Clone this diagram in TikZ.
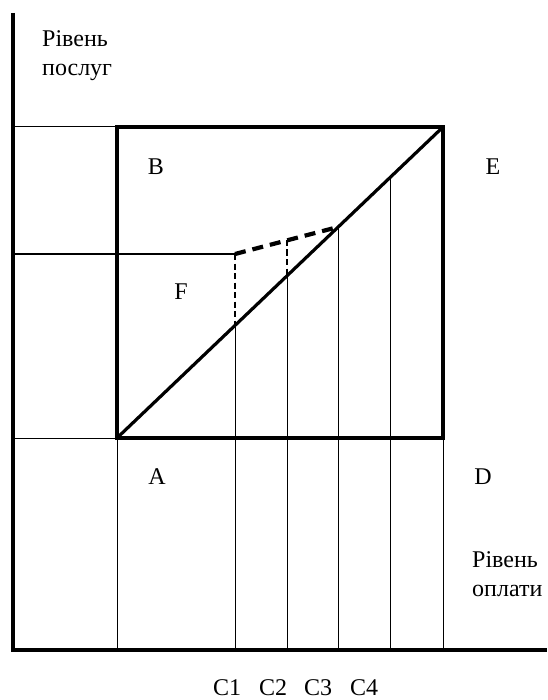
\documentclass[tikz,border=0pt]{standalone}
\usepackage{fontspec}
\setmainfont{Liberation Serif}
\usetikzlibrary{positioning}

\begin{document}
\begin{tikzpicture}[x=1pt,y=-1pt,
    axis/.style={line width=3.2pt},
    frame/.style={line width=3.2pt},
    grid/.style={line width=1pt},
    level/.style={line width=4.2pt,dash pattern=on 11pt off 7pt},
    drop/.style={line width=2.2pt,dash pattern=on 6pt off 3.5pt},
    lbl/.style={font=\fontsize{24}{29}\selectfont,inner sep=0pt}]
  \useasboundingbox (0,0) rectangle (547,700);
  % corners of the square
  \coordinate (sa) at (117,438);
  \coordinate (sb) at (117,127);
  \coordinate (se) at (443,127);
  \coordinate (sd) at (443,438);
  \coordinate (o) at (13,650);
  % axes
  \draw[axis] (13,13) -- (o) -- (547,650);
  % thin guide lines
  \draw[grid] (13,127) -- (sb);
  \draw[grid] (13,254) -- (235,254);
  \draw[grid] (13,438) -- (sa);
  \foreach \x/\y in {117/438,235/325,287/276,338/227,390/178,443/438}{
    \draw[grid] (\x,\y) -- (\x,650);}
  % square and diagonal
  \draw[frame] (sa) rectangle (se);
  \draw[frame] (sa) -- (se);
  % dashed levels
  \draw[level] (235,254) -- (338,227);
  \draw[drop] (235,254) -- (235,325);
  \draw[drop] (287,240) -- (287,276);
  % labels
  \node[lbl,anchor=base west,align=left] (ylab) at (42,76) {Рівень\\послуг};
  \node[lbl,anchor=base west,align=left] (xlab) at (472,596) {Рівень\\оплати};
  \node[lbl] (lb) at (156,167) {B};
  \node[lbl] (le) at (493,167) {E};
  \node[lbl] (lf) at (181,292) {F};
  \node[lbl] (la) at (157,477) {A};
  \node[lbl] (ld) at (483,477) {D};
  \foreach \i/\x in {1/227,2/273,3/318,4/364}{
    \node[lbl,anchor=base] (c\i) at (\x,695) {C\i};}
\end{tikzpicture}
\end{document}
